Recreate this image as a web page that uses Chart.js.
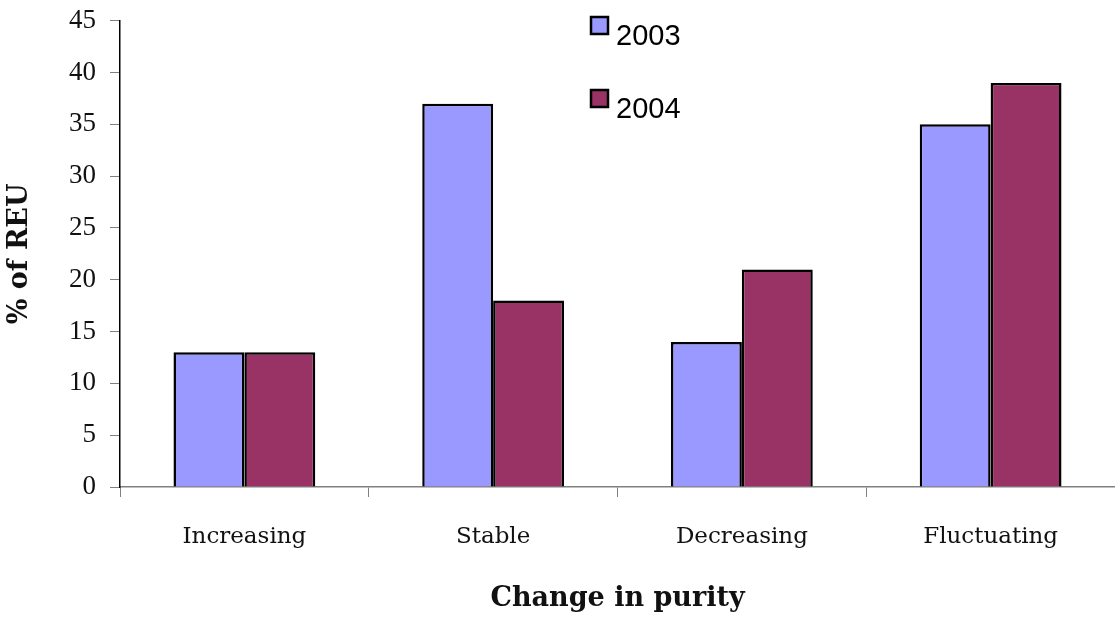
<!DOCTYPE html>
<html>
<head>
<meta charset="utf-8">
<script src="https://cdn.jsdelivr.net/npm/chart.js@4/dist/chart.umd.min.js"></script>
<style>
  html, body { margin: 0; padding: 0; background: #fff; }
  #wrap { width: 1115px; height: 618px; }
</style>
</head>
<body>
<div id="wrap"><canvas id="c"></canvas></div>
<script>
const categories = ['Increasing', 'Stable', 'Decreasing', 'Fluctuating'];
const values2003 = [13, 37, 14, 35];
const values2004 = [13, 18, 21, 39];
const seriesNames = ['2003', '2004'];

// legend drawn by hand, two rows stacked like the original
const legendPlugin = {
  id: 'stackedLegend',
  afterDraw(chart) {
    const ctx = chart.ctx;
    ctx.save();
    chart.data.datasets.forEach((ds, i) => {
      const y = 17 + i * 73;
      ctx.fillStyle = ds.backgroundColor;
      ctx.fillRect(591, y, 17, 17);
      ctx.lineWidth = 2.5;
      ctx.strokeStyle = '#000';
      ctx.strokeRect(591, y, 17, 17);
      ctx.fillStyle = '#000';
      ctx.font = '29px "Liberation Sans", Arial, sans-serif';
      ctx.textBaseline = 'alphabetic';
      ctx.fillText(ds.label, 616, y + 28);
    });
    ctx.restore();
  }
};

const serif = '"DejaVu Serif", serif';

new Chart(document.getElementById('c'), {
  type: 'bar',
  data: {
    labels: categories,
    datasets: [
      { label: seriesNames[0], data: values2003, backgroundColor: '#9999ff', borderColor: '#000', borderWidth: 2.5 },
      { label: seriesNames[1], data: values2004, backgroundColor: '#993366', borderColor: '#000', borderWidth: 2.5 }
    ]
  },
  options: {
    responsive: true,
    maintainAspectRatio: false,
    animation: false,
    layout: { padding: { top: 16, right: 0, left: 0, bottom: 0 } },
    datasets: { bar: { categoryPercentage: 0.57, barPercentage: 1 } },
    plugins: { legend: { display: false }, tooltip: { enabled: false } },
    scales: {
      x: {
        grid: { drawOnChartArea: false, drawTicks: true, tickLength: 10, color: '#808080', offset: true },
        border: { color: '#808080', width: 1.5 },
        ticks: { color: '#111', padding: 26, font: { family: serif, size: 23 } },
        title: { display: true, text: 'Change in purity', color: '#111', padding: { top: 20 },
          font: { family: serif, size: 27, weight: 'bold', lineHeight: 1.1 } },
        afterFit(scale) { scale.height = 131; }
      },
      y: {
        min: 0, max: 45,
        grid: { drawOnChartArea: false, drawTicks: true, tickLength: 10, color: '#808080' },
        border: { color: '#000', width: 1.5 },
        ticks: { stepSize: 5, color: '#111', padding: 14, font: { family: '"Liberation Serif", serif', size: 27, lineHeight: 0.5 } },
        title: { display: true, text: '% of REU', color: '#111', padding: { bottom: 6 },
          font: { family: serif, size: 27, weight: 'bold' } },
        afterFit(scale) { scale.width = 120; }
      }
    }
  },
  plugins: [legendPlugin]
});
</script>
</body>
</html>
